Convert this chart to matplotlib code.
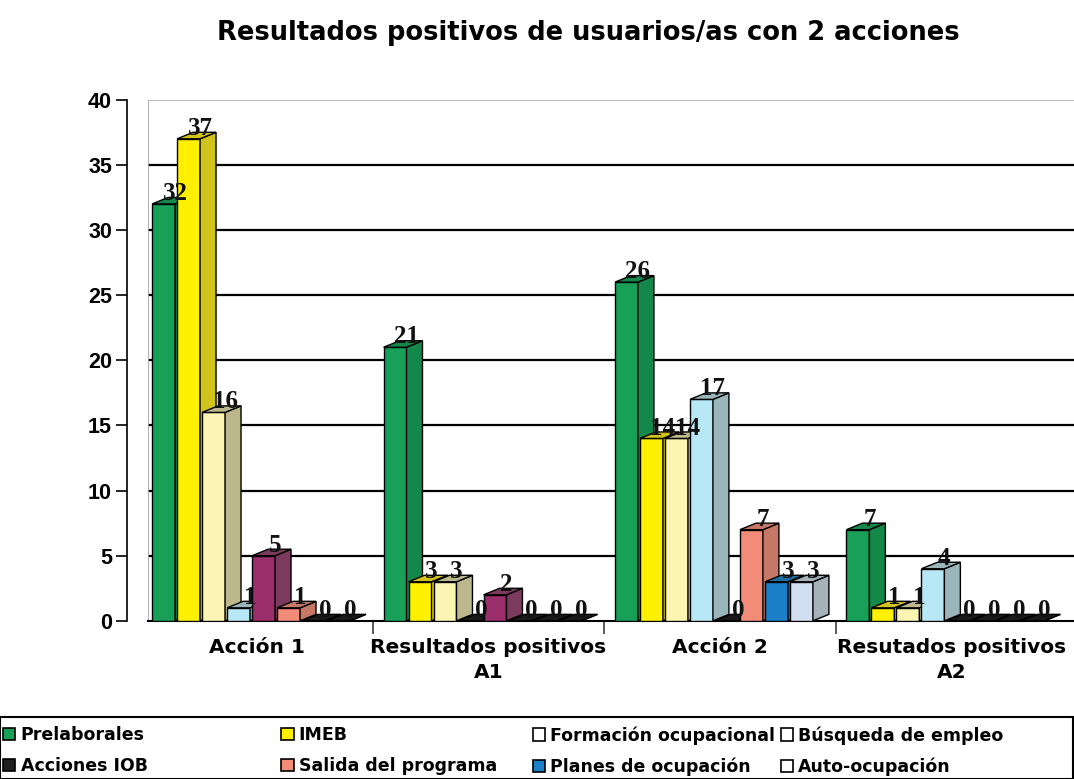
import numpy as np
import matplotlib.pyplot as plt
from matplotlib.patches import Polygon, Patch, Rectangle

# data
categories = ["Acción 1", "Resultados positivos\nA1", "Acción 2", "Resutados positivos\nA2"]
series = ["Prelaborales", "IMEB", "Formación ocupacional", "Búsqueda de empleo",
          "Acciones IOB", "Salida del programa", "Planes de ocupación", "Auto-ocupación"]
prelaborales = [32, 21, 26, 7]
imeb = [37, 3, 14, 1]
formacion = [16, 3, 14, 1]
busqueda = [1, 0, 17, 4]
acciones_iob = [5, 2, 0, 0]
salida = [1, 0, 7, 0]
planes = [0, 0, 3, 0]
auto_ocupacion = [0, 0, 3, 0]
values = [prelaborales, imeb, formacion, busqueda, acciones_iob, salida, planes, auto_ocupacion]
y_ticks = [0, 5, 10, 15, 20, 25, 30, 35, 40]

front_colors = ["#18a058", "#fff000", "#fbf5b4", "#b8e8f6", "#9a2f6c", "#f28c78", "#1c80c8", "#d2def2"]
side_colors = ["#14884a", "#d2c21c", "#bcb88c", "#9ab6ba", "#7c3a5e", "#c67866", "#206ea0", "#a6b2ba"]
legend_colors = ["#18a058", "#fff000", "#ffffff", "#ffffff", "#202020", "#f28c78", "#1c80c8", "#ffffff"]

step = 0.108
width = 0.099
dx = 0.069
dy = 0.5
start = -0.483

fig = plt.figure(figsize=(10.74, 7.79), dpi=100)
ax = fig.add_axes([0.138, 0.203, 0.862, 0.669])

ax.set_xlim(-0.5, 3.5)
ax.set_ylim(0, 40)
ax.spines["left"].set_position(("outward", 15))

# gridlines and the back wall edge
for yv in y_ticks[1:-1]:
    ax.axhline(yv, color="black", lw=1.6, zorder=1)
ax.axhline(40, color="#b0b0b0", lw=1.2, zorder=1)
ax.axvline(-0.5, color="#a0a0a0", lw=1.2, zorder=1)

groups = np.arange(len(categories))
for i, vals in enumerate(values):
    lefts = groups + start + i * step
    ax.bar(lefts, vals, width=width, align="edge", color=front_colors[i],
           edgecolor="black", linewidth=1.0, zorder=3 + i * 0.1)
    for x0, v in zip(lefts, vals):
        shade = side_colors[i] if v > 0 else "#1a1a1a"
        side = Polygon([(x0 + width, 0), (x0 + width + dx, dy), (x0 + width + dx, v + dy), (x0 + width, v)],
                       closed=True, facecolor=shade, edgecolor="black", lw=1.0, zorder=3 + i * 0.1)
        top = Polygon([(x0, v), (x0 + width, v), (x0 + width + dx, v + dy), (x0 + dx, v + dy)],
                      closed=True, facecolor=shade, edgecolor="black", lw=1.0, zorder=3 + i * 0.1)
        ax.add_patch(side)
        ax.add_patch(top)
        ax.text(x0 + width, v + 0.8, str(v), ha="center", va="center",
                fontsize=18, fontweight="bold", family="Liberation Serif",
                color="#111111", zorder=10)

# axes styling
ax.set_yticks(y_ticks, labels=[str(t) for t in y_ticks], fontweight="bold",
              family="Liberation Sans", fontsize=15.5)
ax.tick_params(axis="y", direction="out", length=8, width=1.2, color="black", pad=3)

ax.set_xticks(groups - 0.03, labels=categories, fontsize=14.5, fontweight="bold",
              family="DejaVu Sans", linespacing=1.45)
ax.tick_params(axis="x", length=0, pad=12)
ax.set_xticks(groups[:-1] + 0.47, minor=True)
ax.tick_params(axis="x", which="minor", length=9, width=1.2, color="#404040", direction="out")

ax.spines["left"].set_color("black")
ax.spines["left"].set_linewidth(1.2)
ax.spines["bottom"].set_color("black")
ax.spines["bottom"].set_linewidth(1.5)
ax.spines["top"].set_visible(False)
ax.spines["right"].set_visible(False)

fig.text(0.548, 0.958, "Resultados positivos de usuarios/as con 2 acciones",
         ha="center", va="center", fontsize=18.5, fontweight="bold", family="DejaVu Sans")

# legend: one two-row column per legend, so the columns sit where the reference has them
col_x = [0.003, 0.262, 0.496, 0.727]
for c in range(4):
    hs = [Patch(facecolor=legend_colors[k], edgecolor="black", lw=1.2, label=series[k]) for k in (c, c + 4)]
    fig.legend(handles=hs, loc="upper left", bbox_to_anchor=(col_x[c], 0.068), frameon=False,
               prop={"family": "DejaVu Sans", "weight": "bold", "size": 12.5},
               handlelength=0.7, handleheight=0.7, handletextpad=0.3,
               borderaxespad=0.0, labelspacing=0.75, borderpad=0.0)
fig.patches.append(Rectangle((0.0, 0.0), 0.999, 0.08, transform=fig.transFigure, fill=False,
                             edgecolor="black", lw=1.5))

fig.savefig("out.png", dpi=100)
